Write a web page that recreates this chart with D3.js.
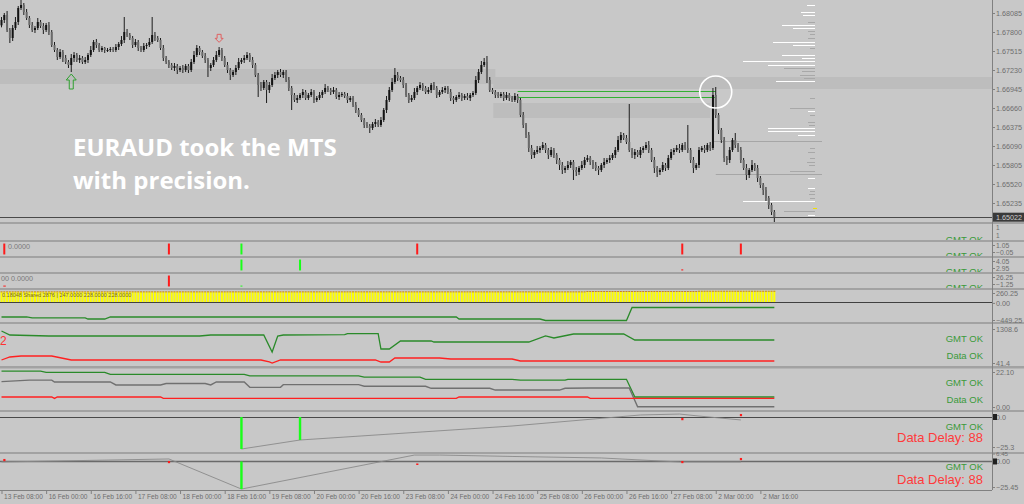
<!DOCTYPE html>
<html><head><meta charset="utf-8">
<script src="https://cdn.jsdelivr.net/npm/d3@7"></script>
<style>body{margin:0;background:#c8c8c8;overflow:hidden}svg{display:block}</style>
</head><body>
<svg id="c" width="1024" height="504"></svg>
<script>
// ---------------- DATA ----------------
// EURAUD H1 closes (price x 100000), one per bar starting 13 Feb 08:00
const closes = [
167980,168055,167830,167710,167860,167950,168160,168205,168100,168010,
167905,167830,167860,167950,167890,167830,167905,167800,167605,167530,
167425,167500,167410,167350,167305,167410,167455,167380,167410,167350,
167380,167455,167530,167650,167605,167530,167560,167530,167530,167545,
167530,167575,167620,167680,167800,167755,167710,167605,167650,167560,
167530,167590,167605,167650,167755,167710,167680,167560,167410,167350,
167305,167260,167290,167230,167260,167230,167290,167230,167350,167455,
167560,167500,167440,167380,167260,167305,167380,167455,167530,167410,
167305,167230,167155,167200,167260,167350,167380,167410,167455,167380,
167305,167155,167005,166960,167050,166930,167005,167110,167155,167200,
167155,167200,167080,166960,166855,166780,166810,166855,166900,166810,
166855,166900,166780,166810,166855,166900,166960,166930,166900,166930,
166825,166855,166870,166840,166780,166810,166705,166630,166555,166480,
166405,166390,166360,166420,166450,166405,166480,166630,166780,166930,
167050,167155,167110,167080,167005,166855,166780,166810,166900,166960,
167005,166960,166900,166930,167005,166960,166855,166900,166930,166960,
166900,166810,166780,166825,166855,166810,166840,166810,166855,166885,
167080,167200,167305,167350,167080,166930,166900,166855,166840,166870,
166810,166855,166810,166780,166840,166780,166555,166405,166255,166060,
165955,166000,166030,166060,166105,166030,165955,166030,165955,165880,
165805,165730,165760,165805,165850,165730,165700,165760,165805,165880,
165910,165850,165805,165760,165730,165805,165850,165880,165910,165955,
166030,166180,166255,166210,166150,166030,165955,166000,165955,166030,
166060,166105,166030,165880,165760,165700,165730,165805,165760,165910,
166000,166030,166060,166030,166105,166060,166030,165880,165760,165805,
166030,166060,166030,166105,166060,166855,166555,166330,166180,165910,
165880,166030,166180,166105,166030,165880,165760,165655,165730,165805,
165760,165610,165505,165430,165310,165205,165100,165022];
const firstOpen = 167900;
// upper / lower wick excursions beyond the body (price points)
const wickUp = [
45,30,60,30,45,75,30,75,30,45, 30,45,30,60,30,45,30,45,30,45, 30,45,30,45,30,60,45,30,45,30,
45,30,60,30,45,30,30,15,30,30, 30,45,30,60,225,45,30,30,45,30, 30,45,30,60,270,45,30,30,45,30,
30,30,45,30,30,45,30,30,45,60, 45,30,30,45,30,30,45,60,45,30, 30,45,30,30,45,60,30,45,45,30,
45,30,30,45,30,30,45,60,45,30, 45,30,30,45,30,30,45,30,45,30, 30,45,30,30,45,30,60,30,30,45,
30,45,30,30,45,30,30,45,30,30, 30,45,30,30,45,30,45,30,60,45, 60,105,45,30,45,30,30,45,60,30,
45,30,30,45,30,45,30,30,45,30, 30,45,30,30,45,30,30,45,30,30, 60,45,60,60,90,45,30,30,45,30,
30,45,30,30,45,30,30,45,30,45, 45,30,60,30,45,30,30,45,30,30, 30,45,30,60,30,30,45,30,60,45,
45,30,30,45,30,30,60,30,45,30, 45,60,45,30,45,570,30,45,30,45, 30,45,60,30,45,30,30,45,30,45,
45,30,45,60,30,45,345,30,45,30, 45,30,45,30,45,105,120,30,30,45, 30,45,30,105,30,45,30,60,30,75,
30,45,30,30,45,30,30,30];
const wickDn = [
30,45,30,75,45,30,45,30,45,30, 45,30,45,30,30,60,30,45,30,30, 45,30,60,30,45,105,60,30,45,30,
30,45,30,30,45,30,30,45,30,30, 30,30,45,30,45,30,30,45,30,45, 30,30,45,30,30,45,30,30,45,30,
45,30,45,60,30,45,30,45,30,30, 30,45,30,45,135,45,30,30,30,45, 30,45,75,30,45,30,30,45,30,30,
45,30,180,45,30,195,45,30,30,45, 30,45,30,45,225,30,45,30,45,30, 30,30,45,30,30,45,30,30,45,30,
30,45,30,30,45,30,30,45,30,30, 45,30,75,30,45,30,30,30,45,30, 30,30,45,30,45,30,45,30,30,45,
30,45,30,30,45,30,45,30,30,45, 30,45,60,30,30,45,30,30,45,30, 30,45,30,30,45,30,30,45,30,30,
45,30,45,30,30,45,30,45,45,60, 60,45,30,45,30,45,60,30,45,60, 75,60,45,30,45,150,60,45,30,45,
30,45,60,45,75,30,45,30,45,30, 45,30,45,30,30,30,45,60,30,45, 45,30,45,30,75,75,45,30,45,30,
30,45,30,45,30,30,45,45,75,30, 45,30,45,30,45,30,45,60,45,60, 75,45,30,45,30,45,30,75,45,30,
45,60,45,75,45,60,45,75];

const timeLabels = ["13 Feb 08:00","16 Feb 00:00","16 Feb 16:00","17 Feb 08:00","18 Feb 00:00","18 Feb 16:00","19 Feb 08:00","20 Feb 00:00","20 Feb 16:00","23 Feb 08:00","24 Feb 00:00","24 Feb 16:00","25 Feb 08:00","26 Feb 00:00","26 Feb 16:00","27 Feb 08:00","2 Mar 00:00","2 Mar 16:00"];
const timeTickBars = [0,16,32,48,64,80,96,112,128,144,160,176,192,208,224,240,256,272];
const priceTicks = [1.68085,1.67800,1.67515,1.67230,1.66945,1.66660,1.66375,1.66090,1.65805,1.65520,1.65235];
const lastPrice = 1.65022;

// supply/demand zones [fromBar, toBar(null=edge), hiPrice, loPrice]
const zoneFrom = [0, 177, 177];
const zoneTo = [177, null, 254];
const zoneHi = [1.67245, 1.67125, 1.66735];
const zoneLo = [1.67020, 1.66945, 1.66510];
// MTS green levels
const mtsLevels = [1.66915, 1.66825];
const mtsFrom = [185, 185];
const mtsTo = [256, 256];
// gray reference levels
const grayLevels = [1.66165, 1.65663];
const grayFrom = [255, 256];
// volume profile (price, volume)
const profWhiteP = [1.68205,1.68100,1.68055,1.67905,1.67860,1.67650,1.67605,1.67455,1.67410,1.67365,1.67305,1.67065,1.66615,1.66360,1.66315,1.66255,1.65610,1.65460,1.65265,1.65055];
const profWhiteV = [8,14,12,33,22,42,22,33,13,72,47,39,7,47,47,17,7,7,72,7];
const profGrayP = [1.67950,1.67815,1.67770,1.67710,1.67560,1.67260,1.67215,1.67155,1.67110,1.66810,1.66660,1.66555,1.66450,1.66405,1.66060,1.66000,1.65910,1.65850,1.65805,1.65715,1.65415,1.65370,1.65310,1.65115];
const profGrayV = [7,7,5,7,5,31,13,15,11,5,25,5,7,6,5,7,5,8,6,25,5,6,5,31];
// arrows
const buyArrowBar = [25], buyArrowPrice = [1.67170];
const sellArrowBar = [78], sellArrowPrice = [1.67645];
const circleBar = [256], circlePrice = [1.66900];

// signal panels (bar indices)
const p2Red = [1,60,149,244,265], p2Green = [86];
const p3Green = [86,107], p3Red = [244];
const p4Red = [60], p4RedSmall = [1], p4GreenSmall = [86];
// histogram panel (steps: from bar, value)
const histStepBar = [0, 210, 250];
const histStepVal = [300, 310, 318];
// panel 5 green line [bar, value]
const p5Green = [[0,-370],[9,-370],[11,-396],[30,-396],[31,-423],[37,-423],[39,-370],[163,-370],[164,-423],[193,-423],[195,-462],[224,-462],[226,-121],[277,-121]];
// panel 7 lines
const p7Green = [[0,1234],[3,1085],[17,1048],[71,1048],[75,1085],[94,1085],[97,451],[99,1048],[101,1085],[123,1096],[124,1133],[135,1133],[136,563],[139,563],[143,861],[154,861],[155,824],[189,824],[195,1048],[198,973],[205,1122],[223,1122],[227,899],[277,899]];
const p7Red = [[0,153],[3,265],[7,302],[18,302],[25,153],[93,153],[96,79],[97,41],[100,153],[134,153],[136,79],[139,79],[141,228],[157,228],[161,190],[183,190],[186,116],[277,116]];
// panel 8 lines
const p8Green = [[0,22.7],[14,22.7],[16,21.9],[37,21.9],[39,20.6],[87,20.6],[89,19.6],[128,19.6],[130,18.9],[150,18.9],[152,17.5],[183,17.5],[186,17.0],[202,17.0],[203,17.5],[224,17.5],[227,6.3],[277,6.3]];
const p8Gray = [[0,16.0],[10,17.0],[18,17.0],[19,15.8],[39,15.8],[41,13.9],[57,13.9],[59,14.8],[73,14.8],[75,13.9],[77,15.8],[87,15.8],[89,12.4],[100,12.4],[101,14.1],[128,14.1],[130,13.1],[152,13.1],[154,11.8],[175,11.8],[177,10.7],[200,10.7],[202,11.8],[211,12.0],[225,12.0],[228,0.2],[277,0.2]];
const p8Red = [[0,6.3],[18,6.3],[19,5.4],[20,6.3],[57,6.3],[58,5.4],[163,5.4],[164,6.3],[210,6.3],[211,5.4],[277,5.4]];
// panel 9
const p9Line = [[86,-27.0],[107,-19.4],[183,-7.6],[229,1.7],[243,2.5],[250,0.8],[265,-2.5]];
const p9Green = [[86,-27.0],[107,-19.4]];
const p9Red = [[244,-1.7],[265,1.7]];
// panel 10
const p10Line = [[0,-0.5],[60,2.5],[86,-27.5],[148,6.4],[157,6.4],[183,5.0],[215,3.5],[243,-0.5],[265,-0.5]];
const p10Green = [[86,-27.5]];
const p10Red = [[1,1.5],[60,-0.5],[149,-3.5],[244,-0.5],[265,2.5]];

// ---------------- DRAW ----------------
const svg = d3.select('#c');
const AX = 992;
const FONT = "'Liberation Sans', Arial, sans-serif";
svg.append('rect').attr('width',1024).attr('height',504).attr('fill','#c8c8c8');

const xB = d3.scaleLinear().domain([0,277]).range([1.5, 1.5 + 277*2.79]);
const defs = svg.append('defs');
function panel(id, top, bot){
  defs.append('clipPath').attr('id',id).append('rect').attr('x',0).attr('y',top).attr('width',AX).attr('height',bot-top);
  return svg.append('g').attr('clip-path',`url(#${id})`);
}
function rightAxis(scale, ticks, fmt, size){
  const g = svg.append('g').attr('transform',`translate(${AX},0)`)
    .call(d3.axisRight(scale).tickValues(ticks).tickSize(3).tickFormat(fmt));
  g.select('.domain').remove();
  g.selectAll('line').attr('stroke','#808080');
  g.selectAll('text').attr('fill','#6e6e6e').style('font-family',FONT).style('font-size',(size||7.2)+'px').attr('x',4);
  return g;
}
const txt = (g,x,y,s,fill,size)=>g.append('text').attr('x',x).attr('y',y).text(s).attr('fill',fill).style('font-family',FONT).style('font-size',size+'px');

// ---- main panel ----
const yP = d3.scaleLinear().domain([1.65235,1.68085]).range([203,13]);
const gm = panel('cm',0,222);
gm.selectAll('rect.zone').data(zoneHi).join('rect').attr('class','zone')
  .attr('x',(d,i)=>xB(zoneFrom[i])-2).attr('y',d=>yP(d))
  .attr('width',(d,i)=>(zoneTo[i]===null?AX+2:xB(zoneTo[i]))-xB(zoneFrom[i])+2)
  .attr('height',(d,i)=>yP(zoneLo[i])-yP(d)).attr('fill','#bdbdbd');
// volume profile
const xV = d3.scaleLinear().domain([0,72]).range([815,743]);
const hy = p=>Math.round(yP(p))+0.5;
gm.selectAll('line.pg').data(profGrayP).join('line').attr('class','pg')
  .attr('x1',xV(0)).attr('x2',(d,i)=>xV(profGrayV[i])).attr('y1',hy).attr('y2',hy)
  .attr('stroke','#a8a8a8');
gm.selectAll('line.pw').data(profWhiteP).join('line').attr('class','pw')
  .attr('x1',xV(0)).attr('x2',(d,i)=>xV(profWhiteV[i])).attr('y1',hy).attr('y2',hy)
  .attr('stroke','#ffffff');
gm.append('line').attr('x1',813).attr('x2',817).attr('y1',hy(1.65160)).attr('y2',hy(1.65160)).attr('stroke','#f0e000');
// gray levels
gm.selectAll('line.gl').data(grayLevels).join('line').attr('class','gl')
  .attr('x1',(d,i)=>xB(grayFrom[i])).attr('x2',822).attr('y1',hy).attr('y2',hy)
  .attr('stroke','#a6a6a6');
// MTS levels
gm.selectAll('line.ml').data(mtsLevels).join('line').attr('class','ml')
  .attr('x1',(d,i)=>xB(mtsFrom[i])).attr('x2',(d,i)=>xB(mtsTo[i])).attr('y1',hy).attr('y2',hy)
  .attr('stroke','#34b034').attr('stroke-width',1.1);
// candles
const bars = closes.map((c,i)=>{
  const o = i? closes[i-1] : firstOpen;
  return {i, o:o/1e5, c:c/1e5, h:(Math.max(o,c)+wickUp[i])/1e5, l:(Math.min(o,c)-wickDn[i])/1e5};
});
gm.selectAll('line.wk').data(bars).join('line').attr('class','wk')
  .attr('x1',d=>xB(d.i)).attr('x2',d=>xB(d.i)).attr('y1',d=>yP(d.h)).attr('y2',d=>yP(d.l))
  .attr('stroke','#1c1c1c').attr('stroke-width',1);
gm.selectAll('rect.bd').data(bars).join('rect').attr('class','bd')
  .attr('x',d=>xB(d.i)-1).attr('width',2)
  .attr('y',d=>yP(Math.max(d.o,d.c))).attr('height',d=>Math.max(1,Math.abs(yP(d.o)-yP(d.c))))
  .attr('fill',d=>d.c>=d.o?'#141414':'#6a6a6a');
// current price line
gm.append('line').attr('x1',0).attr('x2',AX).attr('y1',hy(lastPrice)).attr('y2',hy(lastPrice)).attr('stroke','#4a4a4a');
// arrows
buyArrowBar.forEach((b,k)=>{
  const x=xB(b), y=yP(buyArrowPrice[k]);
  gm.append('path').attr('d',`M${x},${y} l-5,6 h3 v9 h4 v-9 h3 z`).attr('fill','none').attr('stroke','#2fa02f').attr('stroke-width',1);
});
sellArrowBar.forEach((b,k)=>{
  const x=xB(b), y=yP(sellArrowPrice[k]);
  gm.append('path').attr('d',`M${x},${y} l-4,-4 h2 v-4 h4 v4 h2 z`).attr('fill','none').attr('stroke','#e06060').attr('stroke-width',1);
});
circleBar.forEach((b,k)=>{
  gm.append('circle').attr('cx',xB(b)).attr('cy',yP(circlePrice[k])).attr('r',16).attr('fill','none').attr('stroke','#ffffff').attr('stroke-width',1.6);
});
// annotation
const ann = gm.append('text').attr('fill','#ffffff').style('font-family',"'Open Sans', sans-serif").style('font-weight',700).style('font-size','24px');
ann.append('tspan').attr('x',73).attr('y',156).text('EURAUD took the MTS');
ann.append('tspan').attr('x',73).attr('y',189).text('with precision.');
// price axis
rightAxis(yP, priceTicks, d3.format('.5f'));
svg.append('rect').attr('x',AX+1).attr('y',yP(lastPrice)-4.5).attr('width',31).attr('height',9).attr('fill','#3a3a3a');
txt(svg,AX+4,yP(lastPrice)+2.6,d3.format('.5f')(lastPrice),'#d0d0d0',7.2);

// ---- separators ----
const seps = [[222,2],[240,2],[256,2],[272,2],[288,2],[322,2],[366,2.5],[410,2],[452,2]];
seps.forEach(s=>svg.append('rect').attr('x',0).attr('y',s[0]).attr('width',1024).attr('height',s[1]).attr('fill','#a2a2a2'));

// ---- panel 1 ----
txt(svg,AX+4,230,'1','#6e6e6e',6.5);
txt(svg,AX+4,238,'1','#6e6e6e',6.5);

// ---- signal panels ----
function sigPanel(id, top, bot, dom, ticks, fmt){
  const s = d3.scaleLinear().domain(dom).range([bot-1, top+1]);
  const sl = d3.scaleLinear().domain(dom).range([bot-4, top+3]);
  const g = panel(id, top, bot);
  rightAxis(sl, ticks, fmt, 6.8);
  return {s,g};
}
const bar = (g,data,s,v0,v1,fill,w)=>g.selectAll(null).data(data).join('rect').attr('x',d=>xB(d)-1).attr('width',w||2)
  .attr('y',s(v1)).attr('height',Math.max(1,s(v0)-s(v1))).attr('fill',fill);
const P2 = sigPanel('c2',242,256,[-0.05,1.05],[1.05,-0.05],d3.format('.2f'));
bar(P2.g,p2Red,P2.s,0,1,'#ff1a1a');
bar(P2.g,p2Green,P2.s,0,1,'#19ff19');
txt(P2.g,8,249,'0.0000','#7a7a7a',7.2);

const P3 = sigPanel('c3',258,272,[2.95,4.05],[4.05,2.95],d3.format('.2f'));
bar(P3.g,p3Green,P3.s,3,4,'#19ff19');
bar(P3.g,p3Red,P3.s,3,3.1,'#ff1a1a');

const P4 = sigPanel('c4',274,288,[-1.25,26.25],[26.25,-1.25],d3.format('.2f'));
bar(P4.g,p4Red,P4.s,0,25,'#ff1a1a');
bar(P4.g,p4RedSmall,P4.s,0,2,'#ff1a1a',2.5);
bar(P4.g,p4GreenSmall,P4.s,0,2,'#19ff19');
txt(P4.g,1,281,'00 0.0000','#7a7a7a',7.2);

// ---- panel 5 (histogram + line) ----
const y5 = d3.scaleLinear().domain([-449.25,260.25]).range([320,293]);
const g5 = panel('c5',290,322);
const histVals = closes.map((_,i)=>{let v=histStepVal[0]; histStepBar.forEach((b,k)=>{if(i>=b) v=histStepVal[k];}); return v;});
g5.selectAll('rect.h').data(histVals).join('rect').attr('class','h').attr('x',(d,i)=>xB(i)-1).attr('width',2).attr('y',d=>y5(d)).attr('height',d=>y5(0)-y5(d)).attr('fill','#ffff00');
g5.selectAll('rect.ht').data(histVals).join('rect').attr('class','ht').attr('x',(d,i)=>xB(i)-1).attr('width',2).attr('y',d=>y5(d)).attr('height',0.8).attr('fill','#b0603a');
txt(g5,2,297,'0.18048  Shared  2876  |  247.0000 228.0000 228.0000','#7a6a20',5.5);
g5.append('line').attr('x1',0).attr('x2',AX).attr('y1',Math.round(y5(0))-0.5).attr('y2',Math.round(y5(0))-0.5).attr('stroke','#404040');
const ln = (ys)=>d3.line().x(d=>xB(d[0])).y(d=>ys(d[1]));
g5.append('path').attr('d',ln(y5)(p5Green)).attr('fill','none').attr('stroke','#2a8a2a').attr('stroke-width',1.3);
rightAxis(y5,[260.25,0,-449.25],d3.format('.2f'));

// ---- panel 7 ----
const y7 = d3.scaleLinear().domain([41.4,1308.6]).range([363,329]);
const g7 = panel('c7',324,366);
g7.append('path').attr('d',ln(y7)(p7Green)).attr('fill','none').attr('stroke','#2a8a2a').attr('stroke-width',1.3);
g7.append('path').attr('d',ln(y7)(p7Red)).attr('fill','none').attr('stroke','#ff2020').attr('stroke-width',1.3);
txt(g7,0,345,'2','#ff3030',12);
rightAxis(y7,[1308.6,41.4],d3.format('.1f'));

// ---- panel 8 ----
const y8 = d3.scaleLinear().domain([0,22.1]).range([407,372]);
const g8 = panel('c8',369,410);
g8.append('path').attr('d',ln(y8)(p8Green)).attr('fill','none').attr('stroke','#2a8a2a').attr('stroke-width',1.3);
g8.append('path').attr('d',ln(y8)(p8Gray)).attr('fill','none').attr('stroke','#707070').attr('stroke-width',1.4);
g8.append('path').attr('d',ln(y8)(p8Red)).attr('fill','none').attr('stroke','#ff2020').attr('stroke-width',1.3);
rightAxis(y8,[22.1,0],d3.format('.2f'));

// ---- panel 9 ----
const y9 = d3.scaleLinear().domain([-25.3,0]).range([447,417]);
const g9 = panel('c9',413,452);
g9.append('line').attr('x1',0).attr('x2',AX).attr('y1',y9(0)+0.5).attr('y2',y9(0)+0.5).attr('stroke','#4a4a4a');
g9.append('path').attr('d',ln(y9)(p9Line)).attr('fill','none').attr('stroke','#8a8a8a').attr('stroke-width',0.9);
g9.selectAll('rect.g').data(p9Green).join('rect').attr('class','g').attr('x',d=>xB(d[0])-1.2).attr('width',2.4).attr('y',y9(0)).attr('height',d=>y9(d[1])-y9(0)).attr('fill','#19ff19');
g9.selectAll('rect.r').data(p9Red).join('rect').attr('class','r').attr('x',d=>xB(d[0])-1).attr('width',2.2).attr('y',d=>y9(d[1])-1).attr('height',2.2).attr('fill','#ff1a1a');
rightAxis(y9,[0,-25.3],d3.format('.1f'));

// ---- panel 10 ----
const y10 = d3.scaleLinear().domain([-25.45,6.45]).range([487,455]);
const y10l = d3.scaleLinear().domain([-25.45,6.45]).range([487,453.5]);
const g10 = panel('c10',454,490);
g10.append('line').attr('x1',0).attr('x2',AX).attr('y1',Math.round(y10(0))+0.5).attr('y2',Math.round(y10(0))+0.5).attr('stroke','#6a6a6a').attr('stroke-width',1.5);
g10.append('path').attr('d',ln(y10)(p10Line)).attr('fill','none').attr('stroke','#8a8a8a').attr('stroke-width',0.9);
g10.selectAll('rect.g').data(p10Green).join('rect').attr('class','g').attr('x',d=>xB(d[0])-1.2).attr('width',2.4).attr('y',y10(0)).attr('height',d=>y10(d[1])-y10(0)).attr('fill','#19ff19');
g10.selectAll('rect.r').data(p10Red).join('rect').attr('class','r').attr('x',d=>xB(d[0])-1).attr('width',2.2)
  .attr('y',d=>d[1]<-2? y10(-2): y10(d[1])-1).attr('height',d=>d[1]<-2? y10(d[1])-y10(-2):2.2).attr('fill','#ff1a1a');
rightAxis(y10l,[6.45],d3.format('.2f'),6.2);
rightAxis(y10,[0,-25.45],d3.format('.2f'));
[y9(0), y10(0)].forEach(y=>svg.append('rect').attr('x',AX+1).attr('y',y-3).attr('width',4).attr('height',6).attr('fill','#202020'));

// ---- status texts ----
const status = [
  ['GMT OK',242.5,'#3a9a3a',9.5],['GMT OK',258.5,'#3a9a3a',9.5],['GMT OK',274.5,'#3a9a3a',9.5],['GMT OK',290.5,'#3a9a3a',9.5],
  ['GMT OK',342,'#3a9a3a',9.5],['Data OK',358.5,'#3a9a3a',9.5],
  ['GMT OK',385.5,'#3a9a3a',9.5],['Data OK',402.5,'#3a9a3a',9.5],
  ['GMT OK',429.5,'#3a9a3a',9.5],['Data Delay: 88',442,'#ff3a3a',13],
  ['GMT OK',469.5,'#3a9a3a',9.5],['Data Delay: 88',484,'#ff3a3a',13]];
const clipFor = y=> y<241?'c1': y<257?'c2': y<273?'c3': y<289?'c4': null;
defs.append('clipPath').attr('id','c1').append('rect').attr('x',0).attr('y',224).attr('width',AX).attr('height',16);
status.forEach(s=>{
  const t = svg.append('text').attr('x',983).attr('y',s[1]).attr('text-anchor','end').text(s[0])
    .attr('fill',s[2]).style('font-family',FONT).style('font-size',s[3]+'px');
  const c = clipFor(s[1]-3);
  if(c) t.attr('clip-path',`url(#${c})`);
});

// ---- axes frame ----
svg.append('line').attr('x1',AX+0.5).attr('x2',AX+0.5).attr('y1',0).attr('y2',490).attr('stroke','#808080');
const gx = svg.append('g').attr('transform','translate(0,490)')
  .call(d3.axisBottom(xB).tickValues(timeTickBars).tickSize(4).tickFormat((d,k)=>timeLabels[k]));
gx.select('.domain').attr('d',`M0,0.5H${AX}`).attr('stroke','#808080');
gx.selectAll('line').attr('stroke','#808080');
gx.selectAll('text').attr('fill','#6e6e6e').style('font-family',FONT).style('font-size','6.6px').attr('text-anchor','start').attr('dx',2).attr('y',4).attr('dy','0.71em');
</script>
</body></html>
